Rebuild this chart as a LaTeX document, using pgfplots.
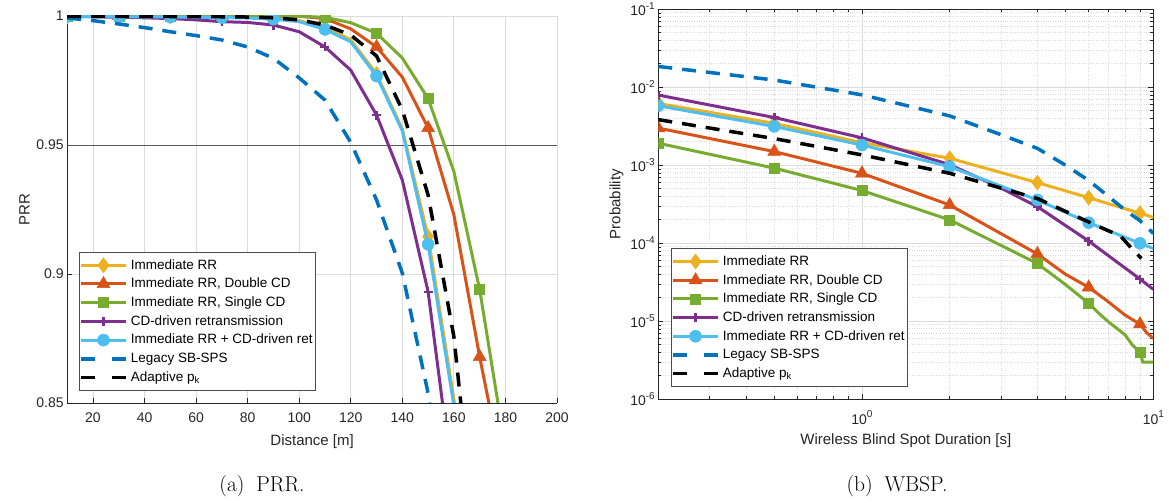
\documentclass[border=0pt]{standalone}
\usepackage{pgfplots}
\pgfplotsset{compat=1.18}
\usepackage{fontspec}
\setsansfont{Liberation Sans}
\definecolor{myyellow}{rgb}{0.929,0.694,0.125}
\definecolor{myorange}{rgb}{0.85,0.325,0.098}
\definecolor{mygreen}{rgb}{0.466,0.674,0.188}
\definecolor{mypurple}{rgb}{0.494,0.184,0.556}
\definecolor{mylblue}{rgb}{0.301,0.745,0.933}
\definecolor{myblue}{rgb}{0,0.447,0.741}
\definecolor{axisgray}{rgb}{0.15,0.15,0.15}
\definecolor{gridgray}{rgb}{0.86,0.86,0.86}
\newcommand{\pw}[1]{10\raisebox{6.5bp}{\fontsize{10bp}{10bp}\selectfont #1}}
\pgfplotsset{
  common/.style={
    scale only axis,
    tick align=inside,
    axis line style={color=axisgray, line width=0.8bp},
    tick style={color=axisgray, line width=0.7bp},
    major tick length=5bp, minor tick length=3bp,
    tick label style={font=\sffamily\fontsize{14bp}{16bp}\selectfont, color=axisgray},
    label style={font=\sffamily\fontsize{15bp}{18bp}\selectfont, color=axisgray},
    major grid style={color=gridgray, line width=0.8bp},
    legend cell align=left,
    legend style={draw=black!70, line width=0.6bp, fill=white,
      font=\sffamily\fontsize{13.5bp}{15bp}\selectfont,
      inner xsep=0bp, inner ysep=3.5bp, row sep=0bp,
      nodes={text height=11.2bp, text depth=3.5bp, inner ysep=2bp, inner xsep=3bp}},
    legend image code/.code={\draw[##1, mark indices={2}] plot coordinates {(0bp,0bp)(22.5bp,0bp)(45bp,0bp)};},
  },
  sy/.style={color=myyellow, line width=3bp, mark=diamond*, mark size=7.5bp, mark options={solid, fill=myyellow, line width=0.5bp}},
  so/.style={color=myorange, line width=3bp, mark=triangle*, mark size=7.5bp, mark options={solid, fill=myorange, line width=0.5bp}},
  sg/.style={color=mygreen, line width=3bp, mark=square*, mark size=5bp, mark options={solid, fill=mygreen, line width=0.5bp}},
  sp/.style={color=mypurple, line width=3bp, mark=+, mark size=4.5bp, mark options={solid, line width=2.5bp}},
  sl/.style={color=mylblue, line width=3bp, mark=*, mark size=6bp, mark options={solid, fill=mylblue, line width=0.5bp}},
  sb/.style={color=myblue, line width=3.5bp, dash pattern=on 14bp off 10bp, legend image post style={dash pattern=on 14bp off 17bp}},
  sk/.style={color=black, line width=3.5bp, dash pattern=on 14bp off 10bp, legend image post style={dash pattern=on 14bp off 17bp}},
}
\begin{document}
\begin{tikzpicture}[x=1bp,y=1bp]
\useasboundingbox (0,0) rectangle (1169,-503);
\begin{axis}[common,
  at={(67.2bp,-16bp)}, anchor=north west,
  width=489.8bp, height=387bp,
  xmin=10, xmax=200, ymin=0.85, ymax=1,
  axis lines*=left, axis line style={-},
  xtick={20,40,60,80,100,120,140,160,180,200},
  xticklabels={20,40,60,80,100,120,140,160,180,200},
  ytick={0.85,0.9,0.95,1}, yticklabels={0.85,0.9,0.95,1},
  xticklabel shift=6bp,
  xlabel style={yshift=-5bp},
  grid=major,
  clip marker paths=true,
  xlabel={Distance [m]}, ylabel={PRR},
  legend style={at={(0.024,0.032)}, anchor=south west},
]
\addplot[forget plot, color=black!65, line width=0.9bp] coordinates {(10,0.95)(200,0.95)};
\addplot[sy, mark indices={1,3,5,7,9,11,13,15,17}] coordinates {(10,0.9999)(20,0.9999)(30,0.9999)(40,0.9999)(50,0.9998)(60,0.9998)(70,0.9997)(80,0.9995)(90,0.9991)(100,0.9982)(110,0.9955)(120,0.9908)(130,0.9775)(140,0.9562)(150,0.9145)(160,0.8515)(170,0.775)};
\addlegendentry{Immediate RR}
\addplot[so, mark indices={1,3,5,7,9,11,13,15,17}] coordinates {(10,1)(20,1)(30,1)(40,1)(50,1)(60,1)(70,1)(80,1)(90,1)(100,0.9999)(110,0.999)(120,0.995)(130,0.988)(140,0.9763)(150,0.9566)(160,0.9229)(170,0.8679)(180,0.818)};
\addlegendentry{Immediate RR, Double CD}
\addplot[sg, mark indices={1,3,5,7,9,11,13,15,17}] coordinates {(10,1)(20,1)(30,1)(40,1)(50,1)(60,1)(70,1)(80,1)(90,1)(100,0.9999)(110,0.9995)(120,0.9974)(130,0.9933)(140,0.9837)(150,0.968)(160,0.9397)(170,0.894)(180,0.832)};
\addlegendentry{Immediate RR, Single CD}
\addplot[sp, mark indices={1,3,5,7,9,11,13,15}] coordinates {(10,0.9998)(20,0.9997)(30,0.9995)(40,0.9993)(50,0.999)(60,0.9985)(70,0.9978)(80,0.9975)(90,0.9965)(100,0.9939)(110,0.988)(120,0.979)(130,0.9616)(140,0.9364)(150,0.8931)(160,0.816)};
\addlegendentry{CD-driven retransmission}
\addplot[sl, mark indices={1,3,5,7,9,11,13,15,17}] coordinates {(10,0.9998)(20,0.9998)(30,0.9997)(40,0.9997)(50,0.9996)(60,0.9995)(70,0.9994)(80,0.9992)(90,0.9988)(100,0.9978)(110,0.9948)(120,0.99)(130,0.9767)(140,0.9555)(150,0.9115)(160,0.849)(170,0.77)};
\addlegendentry{Immediate RR + CD-driven ret}
\addplot[sb] coordinates {(10,0.9992)(20,0.9982)(30,0.9969)(40,0.9955)(50,0.9939)(60,0.9924)(70,0.9907)(80,0.988)(90,0.9836)(100,0.976)(110,0.9674)(120,0.951)(130,0.9287)(140,0.9003)(150,0.8538)(160,0.79)};
\addlegendentry{Legacy SB-SPS}
\addplot[sk] coordinates {(10,0.9999)(20,0.9999)(30,0.9999)(40,0.9999)(50,0.9998)(60,0.9998)(70,0.9997)(80,0.9996)(90,0.9993)(100,0.9985)(110,0.9965)(120,0.9926)(130,0.9845)(140,0.9636)(150,0.9306)(160,0.8757)(170,0.78)};
\addlegendentry{Adaptive p\textsubscript{k}}
\end{axis}

\begin{axis}[common,
  at={(658.3bp,-9.3bp)}, anchor=north west,
  width=495bp, height=390bp,
  xmode=log, ymode=log,
  xmin=0.2, xmax=10, ymin=1e-6, ymax=1e-1,
  xtick={1,10}, xticklabels={\pw{0},\pw{1}},
  minor xtick={0.2,0.3,0.4,0.5,0.6,0.7,0.8,0.9,2,3,4,5,6,7,8,9},
  ytick={1e-6,1e-5,1e-4,1e-3,1e-2,1e-1},
  yticklabels={\pw{-6},\pw{-5},\pw{-4},\pw{-3},\pw{-2},\pw{-1}},
  minor ytick={2e-6,3e-6,4e-6,5e-6,6e-6,7e-6,8e-6,9e-6,2e-5,3e-5,4e-5,5e-5,6e-5,7e-5,8e-5,9e-5,2e-4,3e-4,4e-4,5e-4,6e-4,7e-4,8e-4,9e-4,2e-3,3e-3,4e-3,5e-3,6e-3,7e-3,8e-3,9e-3,2e-2,3e-2,4e-2,5e-2,6e-2,7e-2,8e-2,9e-2},
  xticklabel shift=8bp,
  xlabel style={yshift=-2bp},
  grid=both,
  minor grid style={color=gridgray, dotted, line width=0.8bp},
  clip marker paths=true,
  xlabel={Wireless Blind Spot Duration [s]}, ylabel={Probability},
  legend style={at={(0.0257,0.032)}, anchor=south west},
]
\addplot[sy, mark indices={1,2,3,4,5,6,7}] coordinates {(0.2,6.2e-3)(0.5,3.45e-3)(1,1.95e-3)(2,1.23e-3)(4,6.0e-4)(6,3.85e-4)(9,2.43e-4)(10,2.15e-4)};
\addlegendentry{Immediate RR}
\addplot[so, mark indices={1,2,3,4,5,7,10}] coordinates {(0.2,3.0e-3)(0.5,1.5e-3)(1,7.9e-4)(2,3.1e-4)(4,7.3e-5)(5,4.0e-5)(6,2.73e-5)(6.9,1.86e-5)(8,1.2e-5)(9,9.2e-6)(9.5,7.1e-6)(10,6.05e-6)};
\addlegendentry{Immediate RR, Double CD}
\addplot[sg, mark indices={1,2,3,4,5,7,13}] coordinates {(0.2,1.92e-3)(0.5,9.2e-4)(1,4.75e-4)(2,2.0e-4)(4,5.5e-5)(5,2.95e-5)(6,1.7e-5)(6.5,1.27e-5)(7,9.9e-6)(7.5,8.1e-6)(8,6.7e-6)(8.5,4.9e-6)(9,4.07e-6)(9.2,3.0e-6)(10,3.0e-6)};
\addlegendentry{Immediate RR, Single CD}
\addplot[sp, mark indices={1,2,3,4,6,7,8}] coordinates {(0.2,7.95e-3)(0.5,4.1e-3)(1,2.25e-3)(2,1.02e-3)(3,5.1e-4)(4,2.95e-4)(6,1.07e-4)(9,3.48e-5)(10,2.57e-5)};
\addlegendentry{CD-driven retransmission}
\addplot[sl, mark indices={1,2,3,4,5,6,7}] coordinates {(0.2,5.8e-3)(0.5,3.15e-3)(1,1.82e-3)(2,9.6e-4)(4,3.6e-4)(6,1.84e-4)(9,1.0e-4)(10,8.6e-5)};
\addlegendentry{Immediate RR + CD-driven ret}
\addplot[sb] coordinates {(0.2,1.85e-2)(0.5,1.24e-2)(1,8.0e-3)(2,4.3e-3)(3,2.47e-3)(4,1.65e-3)(5,1.0e-3)(6,6.4e-4)(8,2.67e-4)(9,1.95e-4)(10,1.34e-4)};
\addlegendentry{Legacy SB-SPS}
\addplot[sk] coordinates {(0.2,3.85e-3)(0.5,2.2e-3)(1,1.36e-3)(2,7.9e-4)(4,3.75e-4)(6,1.88e-4)(7,1.45e-4)(7.7,1.25e-4)(8.5,8.3e-5)(9.1,6.4e-5)};
\addlegendentry{Adaptive p\textsubscript{k}}
\end{axis}
\node[font=\rmfamily\fontsize{21.5bp}{26bp}\selectfont] at (262,-486) {(a)\hspace{0.55em}PRR.};
\node[font=\rmfamily\fontsize{21.5bp}{26bp}\selectfont] at (897,-486) {(b)\hspace{0.55em}WBSP.};
\end{tikzpicture}
\end{document}
